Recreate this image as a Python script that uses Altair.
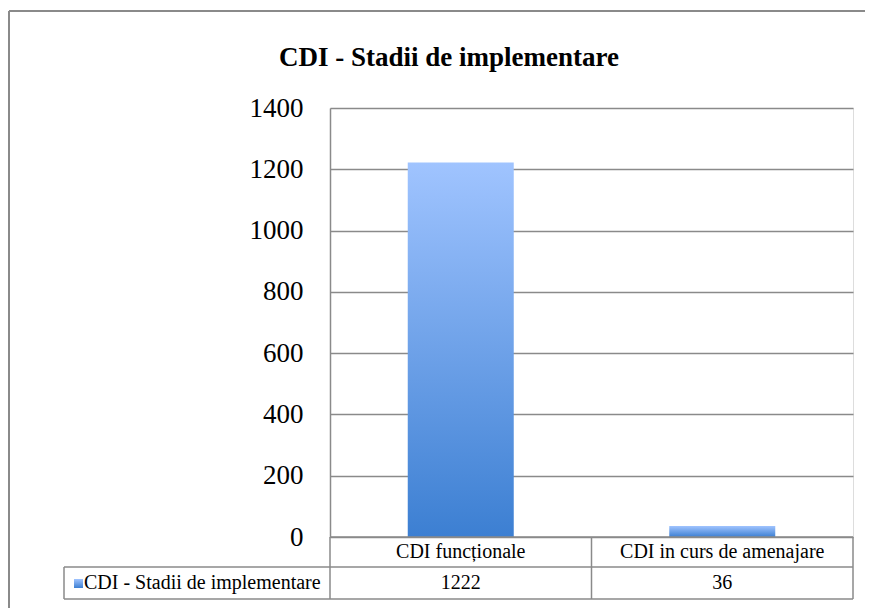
import altair as alt
import pandas as pd

# ---- data ----
categories = ["CDI funcționale", "CDI in curs de amenajare"]
values = [1222, 36]
series_name = "CDI - Stadii de implementare"
chart_title = "CDI - Stadii de implementare"
y_ticks = [0, 200, 400, 600, 800, 1000, 1200, 1400]

df = pd.DataFrame({"cat": categories, "val": values, "series": [series_name] * len(categories)})
one = pd.DataFrame({"label": [series_name], "title": [chart_title]})

FONT = "Liberation Serif"
W, H = 523, 429
LINE = "#8a8a8a"

grad = alt.Gradient(
    gradient="linear",
    stops=[alt.GradientStop(color="#a0c4ff", offset=0),
           alt.GradientStop(color="#3c7fd2", offset=1)],
    x1=0, x2=0, y1=0, y2=1,
)

xenc = alt.X(
    "cat:N", sort=categories,
    scale=alt.Scale(paddingInner=0, paddingOuter=0),
    axis=alt.Axis(title=None, labelFont=FONT, labelFontSize=20, labelColor="black",
                  labelPadding=14, labelBaseline="middle", ticks=False, domain=False,
                  labelAngle=0, labelLimit=400),
)
yenc = alt.Y(
    "val:Q", scale=alt.Scale(domain=[0, 1400], nice=False),
    axis=alt.Axis(values=y_ticks, format="d", title=None, labelFont=FONT, labelFontSize=27,
                  labelColor="black", labelPadding=27, ticks=False,
                  domainColor=LINE, domainWidth=1.5, gridColor=LINE, gridWidth=1.5),
)

bars = alt.Chart(df).mark_bar(size=106, fill=grad).encode(x=xenc, y=yenc)

vals = alt.Chart(df).mark_text(font=FONT, fontSize=20, color="black", baseline="middle").encode(
    x=alt.X("cat:N", sort=categories), y=alt.value(H + 46), text="val:Q")

base1 = alt.Chart(one)

def rule(x, x2, y, y2, color=LINE, width=1.5):
    return base1.mark_rule(color=color, strokeWidth=width).encode(
        x=alt.value(x), x2=alt.value(x2), y=alt.value(y), y2=alt.value(y2))

TL = -266
lines = [
    rule(0, W, H, H),
    rule(TL, W, H + 30, H + 30),
    rule(TL, W, H + 62, H + 62),
    rule(TL, TL, H + 30, H + 62),
    rule(0, 0, H, H + 62),
    rule(W / 2, W / 2, H, H + 62),
    rule(W, W, H, H + 62),
]

# outer chart frame (top and left edges; the others fall outside the picture)
frame = [
    rule(-321, W + 12, -97, -97, width=2),
    rule(-321, -321, -97, H + 71, width=2),
]

key = base1.mark_rect(fill=grad).encode(
    x=alt.value(TL + 10), x2=alt.value(TL + 19), y=alt.value(H + 42), y2=alt.value(H + 51))
key_text = base1.mark_text(font=FONT, fontSize=20, color="black", align="left",
                           baseline="middle").encode(
    x=alt.value(TL + 20), y=alt.value(H + 46), text="label:N")

title = base1.mark_text(font=FONT, fontSize=27, fontWeight="bold", color="black",
                        align="center", baseline="alphabetic").encode(
    x=alt.value(119), y=alt.value(-42), text="title:N")

chart = alt.layer(*frame, bars, vals, *lines, key, key_text, title).properties(
    width=W, height=H,
    autosize=alt.AutoSizeParams(type="none"),
    padding={"left": 322, "top": 100, "right": 12, "bottom": 71},
).configure_view(stroke=None).configure(background="white")

chart.save("out.html", embed_options={"renderer": "svg", "actions": False})
